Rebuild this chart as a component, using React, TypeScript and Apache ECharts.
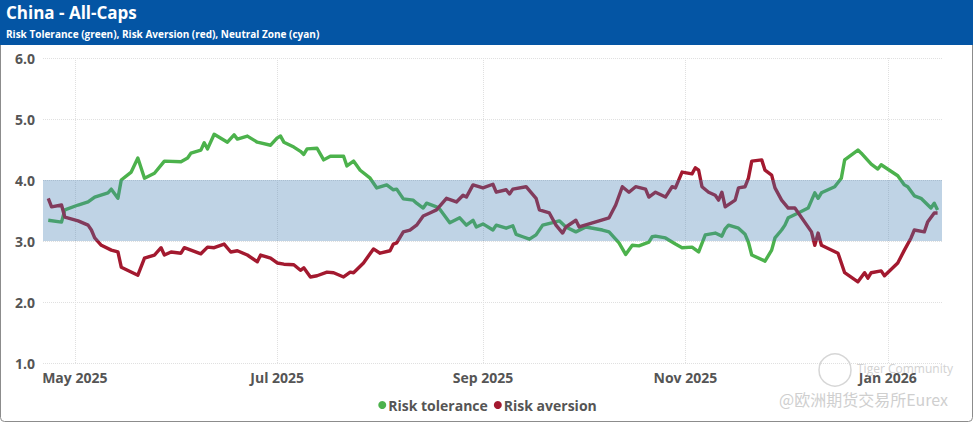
import React, { useEffect, useRef } from "react";
import * as echarts from "echarts";

const title = "China - All-Caps";
const subtitle = "Risk Tolerance (green), Risk Aversion (red), Neutral Zone (cyan)";
const seriesNames = ["Risk tolerance", "Risk aversion"];
const monthNames = ["Jan", "Feb", "Mar", "Apr", "May", "Jun", "Jul", "Aug", "Sep", "Oct", "Nov", "Dec"];
const tickDates = ["2025-05-01", "2025-07-01", "2025-09-01", "2025-11-01", "2026-01-01"];
const axisMinDate = "2025-04-21";
const axisMaxDate = "2026-01-17";
const yTicks = [1, 2, 3, 4, 5, 6];
const neutralZone = [3, 4];

const toleranceDates = [
  "2025-04-23", "2025-04-27", "2025-04-28", "2025-05-02", "2025-05-05", "2025-05-07", "2025-05-11", "2025-05-12",
  "2025-05-14", "2025-05-15", "2025-05-18", "2025-05-20", "2025-05-22", "2025-05-25", "2025-05-28", "2025-06-02",
  "2025-06-04", "2025-06-05", "2025-06-08", "2025-06-09", "2025-06-10", "2025-06-12", "2025-06-16", "2025-06-18",
  "2025-06-19", "2025-06-22", "2025-06-25", "2025-06-29", "2025-07-01", "2025-07-02", "2025-07-03", "2025-07-06",
  "2025-07-08", "2025-07-09", "2025-07-10", "2025-07-13", "2025-07-15", "2025-07-17", "2025-07-21", "2025-07-22",
  "2025-07-24", "2025-07-26", "2025-07-29", "2025-07-31", "2025-08-03", "2025-08-05", "2025-08-06", "2025-08-08",
  "2025-08-11", "2025-08-12", "2025-08-14", "2025-08-15", "2025-08-18", "2025-08-19", "2025-08-22", "2025-08-25",
  "2025-08-27", "2025-08-29", "2025-08-30", "2025-09-01", "2025-09-04", "2025-09-05", "2025-09-08", "2025-09-10",
  "2025-09-11", "2025-09-13", "2025-09-15", "2025-09-17", "2025-09-19", "2025-09-22", "2025-09-24", "2025-09-26",
  "2025-09-29", "2025-10-02", "2025-10-07", "2025-10-09", "2025-10-12", "2025-10-14", "2025-10-16", "2025-10-18",
  "2025-10-21", "2025-10-22", "2025-10-23", "2025-10-26", "2025-10-29", "2025-10-31", "2025-11-03", "2025-11-05",
  "2025-11-07", "2025-11-10", "2025-11-12", "2025-11-13", "2025-11-14", "2025-11-17", "2025-11-19", "2025-11-20",
  "2025-11-21", "2025-11-25", "2025-11-27", "2025-11-28", "2025-11-30", "2025-12-01", "2025-12-02", "2025-12-05",
  "2025-12-08", "2025-12-10", "2025-12-11", "2025-12-12", "2025-12-16", "2025-12-18", "2025-12-19", "2025-12-23",
  "2025-12-24", "2025-12-27", "2025-12-29", "2025-12-30", "2026-01-04", "2026-01-06", "2026-01-07", "2026-01-09",
  "2026-01-11", "2026-01-14", "2026-01-15", "2026-01-16",
];
const toleranceValues = [
  3.34, 3.31, 3.51, 3.59, 3.64, 3.72, 3.79, 3.85,
  3.70, 4.00, 4.13, 4.36, 4.03, 4.11, 4.31, 4.30,
  4.36, 4.44, 4.49, 4.61, 4.51, 4.75, 4.62, 4.74,
  4.67, 4.72, 4.62, 4.57, 4.69, 4.72, 4.62, 4.54,
  4.47, 4.42, 4.51, 4.52, 4.33, 4.39, 4.39, 4.23,
  4.31, 4.16, 4.03, 3.87, 3.92, 3.84, 3.85, 3.69,
  3.67, 3.62, 3.54, 3.62, 3.56, 3.52, 3.30, 3.38,
  3.26, 3.34, 3.23, 3.28, 3.18, 3.26, 3.21, 3.25,
  3.11, 3.07, 3.03, 3.10, 3.26, 3.30, 3.33, 3.23,
  3.15, 3.23, 3.18, 3.15, 2.97, 2.78, 2.93, 2.92,
  2.98, 3.07, 3.08, 3.05, 2.95, 2.89, 2.90, 2.82,
  3.10, 3.13, 3.08, 3.20, 3.26, 3.21, 3.11, 2.98,
  2.77, 2.67, 2.85, 3.05, 3.18, 3.26, 3.38, 3.46,
  3.54, 3.79, 3.70, 3.79, 3.89, 4.03, 4.33, 4.49,
  4.44, 4.26, 4.18, 4.25, 4.07, 3.92, 3.89, 3.74,
  3.70, 3.54, 3.62, 3.51,
];

const aversionDates = [
  "2025-04-23", "2025-04-24", "2025-04-27", "2025-04-28", "2025-05-02", "2025-05-05", "2025-05-06", "2025-05-07",
  "2025-05-09", "2025-05-12", "2025-05-14", "2025-05-15", "2025-05-20", "2025-05-22", "2025-05-25", "2025-05-27",
  "2025-05-28", "2025-05-30", "2025-06-02", "2025-06-03", "2025-06-08", "2025-06-10", "2025-06-12", "2025-06-15",
  "2025-06-17", "2025-06-19", "2025-06-22", "2025-06-25", "2025-06-26", "2025-06-29", "2025-07-01", "2025-07-03",
  "2025-07-06", "2025-07-08", "2025-07-09", "2025-07-11", "2025-07-13", "2025-07-16", "2025-07-18", "2025-07-21",
  "2025-07-23", "2025-07-24", "2025-07-27", "2025-07-30", "2025-08-01", "2025-08-04", "2025-08-05", "2025-08-06",
  "2025-08-08", "2025-08-10", "2025-08-12", "2025-08-14", "2025-08-16", "2025-08-18", "2025-08-21", "2025-08-24",
  "2025-08-26", "2025-08-27", "2025-08-29", "2025-09-01", "2025-09-04", "2025-09-05", "2025-09-08", "2025-09-09",
  "2025-09-10", "2025-09-14", "2025-09-17", "2025-09-18", "2025-09-21", "2025-09-23", "2025-09-25", "2025-09-26",
  "2025-09-29", "2025-09-30", "2025-10-09", "2025-10-11", "2025-10-13", "2025-10-15", "2025-10-17", "2025-10-20",
  "2025-10-21", "2025-10-23", "2025-10-26", "2025-10-28", "2025-10-29", "2025-10-31", "2025-11-03", "2025-11-04",
  "2025-11-05", "2025-11-06", "2025-11-08", "2025-11-10", "2025-11-11", "2025-11-12", "2025-11-13", "2025-11-16",
  "2025-11-17", "2025-11-19", "2025-11-20", "2025-11-21", "2025-11-24", "2025-11-25", "2025-11-27", "2025-11-28",
  "2025-11-30", "2025-12-02", "2025-12-04", "2025-12-09", "2025-12-10", "2025-12-11", "2025-12-12", "2025-12-17",
  "2025-12-19", "2025-12-23", "2025-12-25", "2025-12-26", "2025-12-27", "2025-12-30", "2025-12-31", "2026-01-04",
  "2026-01-06", "2026-01-08", "2026-01-09", "2026-01-12", "2026-01-13", "2026-01-15", "2026-01-16",
];
const aversionValues = [
  3.70, 3.56, 3.59, 3.39, 3.33, 3.26, 3.18, 3.05,
  2.93, 2.85, 2.82, 2.57, 2.44, 2.72, 2.77, 2.89,
  2.77, 2.82, 2.80, 2.89, 2.79, 2.90, 2.89, 2.95,
  2.82, 2.84, 2.77, 2.66, 2.77, 2.72, 2.64, 2.62,
  2.61, 2.52, 2.56, 2.41, 2.43, 2.49, 2.48, 2.41,
  2.49, 2.48, 2.64, 2.87, 2.80, 2.84, 2.95, 2.97,
  3.15, 3.18, 3.26, 3.41, 3.46, 3.51, 3.70, 3.64,
  3.75, 3.72, 3.92, 3.87, 3.93, 3.80, 3.84, 3.77,
  3.85, 3.89, 3.70, 3.51, 3.46, 3.26, 3.13, 3.23,
  3.34, 3.23, 3.38, 3.59, 3.89, 3.80, 3.89, 3.85,
  3.72, 3.80, 3.72, 3.89, 3.87, 4.13, 4.10, 4.20,
  4.16, 3.89, 3.80, 3.75, 3.67, 3.80, 3.56, 3.67,
  3.87, 3.89, 4.03, 4.31, 4.33, 4.16, 4.08, 3.87,
  3.67, 3.54, 3.54, 3.15, 2.93, 3.13, 2.93, 2.80,
  2.48, 2.33, 2.48, 2.39, 2.48, 2.51, 2.43, 2.64,
  2.85, 3.05, 3.18, 3.15, 3.31, 3.46, 3.46,
];

const FONT = "'Open Sans', 'Noto Sans', sans-serif";

function toTime(s: string): number {
  const [y, m, d] = s.split("-").map(Number);
  return Date.UTC(y, m - 1, d);
}

export default function App() {
  const ref = useRef<HTMLDivElement>(null);

  useEffect(() => {
    if (!ref.current) return;
    const chart = echarts.init(ref.current, null, { renderer: "svg" });
    const tickValues = tickDates.map(toTime);
    const xMin = toTime(axisMinDate) + 10 * 3600 * 1000;
    const xMax = toTime(axisMaxDate) + 8 * 3600 * 1000;

    const option: any = {
      animation: false,
      backgroundColor: "#ffffff",
      textStyle: { fontFamily: FONT },
      graphic: [
        {
          type: "rect",
          shape: { x: 0.5, y: 0.5, width: 972, height: 421, r: 4 },
          style: { fill: "none", stroke: "#8c8c8c", lineWidth: 1 },
          z: 0,
          silent: true,
        },
        {
          type: "rect",
          shape: { x: 0, y: 0, width: 973, height: 45 },
          style: { fill: "#0455a4" },
          z: 1,
          silent: true,
        },
        {
          type: "text",
          x: 6,
          y: 4,
          style: { text: title, fill: "#ffffff", font: `bold 17px ${FONT}` },
          z: 2,
        },
        {
          type: "text",
          x: 6,
          y: 29,
          style: { text: subtitle, fill: "#ffffff", font: `bold 10px ${FONT}` },
          z: 2,
        },
        {
          type: "circle",
          shape: { cx: 835, cy: 370, r: 16 },
          style: { fill: "none", stroke: "#d6d6d6", lineWidth: 1.5 },
          z: 20,
          silent: true,
        },
        {
          type: "text",
          x: 857,
          y: 362,
          style: { text: "Tiger Community", fill: "#d2d2d2", font: `12px ${FONT}` },
          z: 20,
          silent: true,
        },
        {
          type: "text",
          x: 779,
          y: 391,
          style: { text: "@欧洲期货交易所Eurex", fill: "#cfcfcf", font: `16px 'Noto Sans CJK SC', sans-serif` },
          z: 20,
          silent: true,
        },
      ],
      grid: { left: 43, right: 33, top: 58, bottom: 61, containLabel: false },
      legend: {
        data: seriesNames,
        top: 393,
        left: "center",
        icon: "circle",
        itemWidth: 8,
        itemHeight: 8,
        itemGap: 6,
        textStyle: { fontFamily: FONT, fontWeight: "bold", fontSize: 14, color: "#555555", padding: [0, 0, 0, -3] },
      },
      xAxis: {
        type: "value",
        min: xMin,
        max: xMax,
        axisLine: { show: false },
        axisTick: { show: false, customValues: tickValues },
        splitLine: { show: true, lineStyle: { type: "dotted", color: "#e0e0e0", width: 1 } },
        axisLabel: {
          customValues: tickValues,
          margin: 7,
          fontFamily: FONT,
          fontWeight: "bold",
          fontSize: 14,
          color: "#555555",
          showMinLabel: true,
          showMaxLabel: true,
          formatter: (v: number) => {
            const d = new Date(v);
            return `${monthNames[d.getUTCMonth()]} ${d.getUTCFullYear()}`;
          },
        },
      },
      yAxis: {
        type: "value",
        min: yTicks[0],
        max: yTicks[yTicks.length - 1],
        interval: 1,
        axisLine: { show: false },
        axisTick: { show: false },
        splitLine: { show: true, lineStyle: { type: "dotted", color: "#e0e0e0", width: 1 } },
        axisLabel: {
          margin: 8,
          fontFamily: FONT,
          fontWeight: "bold",
          fontSize: 14,
          color: "#555555",
          formatter: (v: number) => v.toFixed(1),
        },
      },
      series: [
        {
          name: seriesNames[0],
          type: "line",
          data: toleranceDates.map((d, i) => [toTime(d), toleranceValues[i]]),
          showSymbol: false,
          symbol: "circle",
          color: "#4cb24c",
          lineStyle: { width: 3.4, color: "#4cb24c", join: "round" },
          z: 3,
        },
        {
          name: seriesNames[1],
          type: "line",
          data: aversionDates.map((d, i) => [toTime(d), aversionValues[i]]),
          showSymbol: false,
          symbol: "circle",
          color: "#a3192f",
          lineStyle: { width: 3.4, color: "#a3192f", join: "round" },
          z: 4,
        },
        {
          name: "Neutral zone",
          type: "custom",
          silent: true,
          z: 10,
          data: [[xMin, neutralZone[0], neutralZone[1]]],
          encode: { x: 0, y: [1, 2] },
          renderItem: (params: any, api: any) => {
            const cs = params.coordSys;
            const low = api.coord([api.value(0), api.value(1)]);
            const high = api.coord([api.value(0), api.value(2)]);
            return {
              type: "rect",
              shape: { x: cs.x, y: high[1], width: cs.width, height: low[1] - high[1] },
              style: { fill: "rgba(66, 126, 180, 0.34)" },
            };
          },
        },
      ],
    };

    chart.setOption(option);
    return () => chart.dispose();
  }, []);

  return (
    <div
      ref={ref}
      style={{ position: "fixed", left: 0, top: 0, width: 975, height: 424 }}
    />
  );
}
